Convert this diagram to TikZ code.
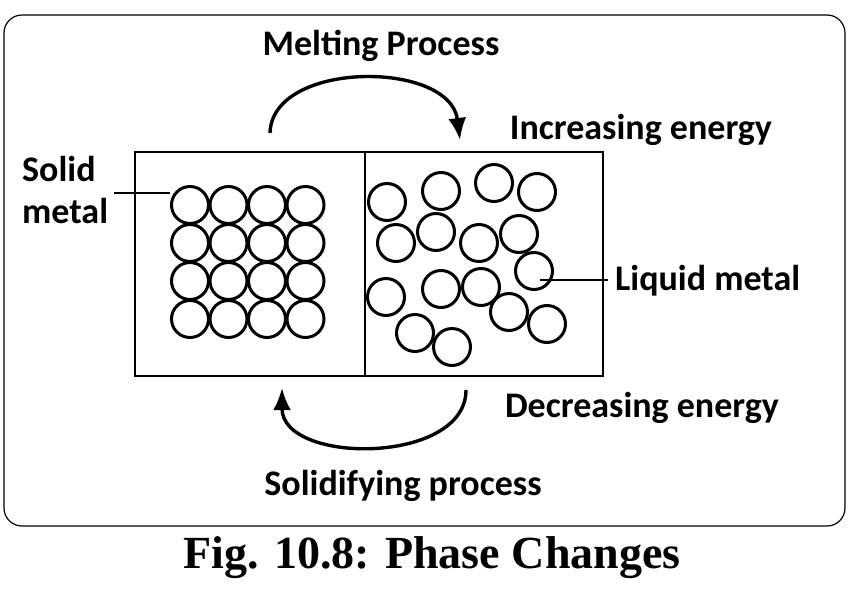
\documentclass[tikz,border=0pt]{standalone}
\usepackage{fontspec}
\setmainfont{Liberation Serif}
\newfontfamily\labelfont{Carlito}
\usetikzlibrary{arrows.meta}

\begin{document}
\begin{tikzpicture}[x=1pt,y=-1pt,
    atom/.style={draw,line width=3pt,circle,minimum size=37pt,inner sep=0pt},
    lbl/.style={font=\labelfont\bfseries\fontsize{36}{40}\selectfont,inner sep=0pt},
    flow/.style={line width=3.4pt,-{Latex[length=22pt,width=18pt]}}]

\useasboundingbox (0,0) rectangle (848,603);
\draw[line width=1.2pt,rounded corners=18pt] (4,15) rectangle (845,526);

% containers
\draw[line width=2.6pt] (135,152) rectangle (365,376);
\draw[line width=2.6pt] (365,152) rectangle (603,376);

% solid lattice
\foreach \i in {0,...,3}
  \foreach \j in {0,...,3}
    \node[atom] (s\i\j) at ({190+38.5*\i},{205+38*\j}) {};

% liquid atoms
\foreach \x/\y [count=\k] in {387/202,441/191,494/183,537/192,396/243,436/232,
    479/243,519/234,534/271,386/297,441/289,481/287,509/312,547/324,415/333,452/347}
  \node[atom] (l\k) at (\x,\y) {};

% labels
\node[lbl,align=left,anchor=west] (solid) at (22,190) {Solid\\[2pt]metal};
\node[lbl,anchor=west,inner xsep=7pt] (liquid) at (608,281) {Liquid metal};
\node[lbl] (melt) at (381,46) {Melting Process};
\node[lbl] (inc) at (641,130) {Increasing energy};
\node[lbl] (dec) at (642,408) {Decreasing energy};
\node[lbl] (sol) at (403,486) {Solidifying process};
\node[font=\bfseries\fontsize{46}{50}\selectfont,inner sep=0pt] (cap) at (432,558) {Fig. 10.8: Phase Changes};

\coordinate (sp) at (114,193);
\coordinate (lp) at (540,280);
\draw[line width=2.4pt] (sp) -- (sp -| s00.west);
\draw[line width=2.4pt] (lp) -- (lp -| liquid.west);

% processes
\draw[flow] (270,133) .. controls (272,60) and (450,60) .. (460,140);
\draw[flow] (466,390) .. controls (466,465) and (282,465) .. (282,388);
\end{tikzpicture}
\end{document}
